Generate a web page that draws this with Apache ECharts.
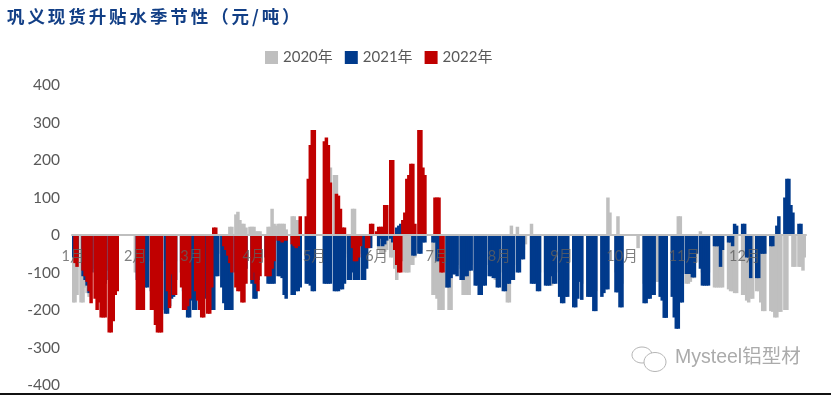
<!DOCTYPE html>
<html><head><meta charset="utf-8">
<style>html,body{margin:0;padding:0;background:#fff}#c{width:831px;height:395px}</style>
<script src="https://cdn.jsdelivr.net/npm/echarts@6/dist/echarts.min.js"></script>
</head><body><div id="c"></div>
<script>
const _ = null;
const titleText = '巩\u2006义\u2006现\u2006货\u2006升\u2006贴\u2006水\u2006季\u2006节\u2006性\u2006（\u2006元\u2006/\u2006吨\u2006）';
const monthNames = ['1月','2月','3月','4月','5月','6月','7月','8月','9月','10月','11月','12月'];
const monthStarts = [0,31,59,90,120,151,181,212,243,273,304,334];
const dayCount = 365;
const yearNames = ['2020年','2021年','2022年'];
const yearColors = ['#BFBFBF','#003A8C','#C00000'];
const yTicks = {min:-400,max:400,step:100};

const values2020 = [
-180,-180,-160,_,-180,-180,-140,-155,-165,_,
_,-90,-110,-100,-120,-100,_,-95,_,-110,
-100,-90,-80,_,_,_,_,_,_,_,
_,-100,-100,-90,-100,-80,-100,_,_,-70,
-80,-100,-90,-60,-70,_,_,-60,-80,-70,
-60,-70,_,_,-70,-80,-90,-100,-90,-60,
-60,-60,-80,-90,-100,-80,_,-70,-80,-60,
-60,-50,-50,_,-30,-30,-30,-50,22,22,
_,55,62,40,30,30,20,_,22,22,
22,10,10,10,_,_,_,22,22,70,
30,25,30,30,30,30,15,_,_,50,
50,40,40,-20,_,_,-60,-60,-70,-80,
-70,_,_,_,_,-60,-70,-70,180,_,
160,160,-60,-60,-50,-50,_,-60,-50,70,
70,-50,-50,_,-50,-50,-50,-30,-30,_,
_,_,-40,-50,-50,-45,-40,_,-60,-60,
-90,-120,-80,_,-70,-100,-100,-100,-80,-80,
-60,_,-40,-40,_,_,_,_,_,-160,
-160,-170,-200,-200,-200,-140,-140,-200,-200,-80,
-80,-80,_,-90,-160,-160,-160,-160,-80,_,
-100,-100,-120,-120,-100,-100,_,-80,-80,-100,
-120,-100,-100,_,-100,-100,-180,-180,25,-80,
_,22,-60,-50,-40,-25,_,_,30,-100,
-100,-100,-100,_,_,-100,-100,-100,-135,-120,
-100,_,-120,-130,-130,-120,-120,_,_,-130,
-130,-120,-100,-130,_,_,-120,-120,-120,-150,
-150,_,_,-120,-110,-100,100,60,_,_,
-100,50,-130,-130,_,_,_,_,_,_,
_,-35,_,_,-130,-130,-120,-120,-110,-110,
-125,-125,-120,-130,-150,-150,_,_,-120,-150,
-180,50,50,-130,_,-130,-130,-125,-115,-115,
-40,_,10,-100,-100,-100,-100,_,_,-140,
-140,-140,-140,-140,_,_,-145,-150,-150,-155,
-155,_,_,-160,-160,-175,-180,-170,-170,_,
-150,-150,-180,-203,-203,_,_,-203,-205,-220,
-220,-205,-205,_,-200,-200,_,_,-85,-85,
_,-85,-85,-95,-60];

const values2021 = [
-60,-50,-60,_,_,-110,-120,-135,-155,-100,
_,-100,-120,-110,-130,-130,-130,_,-120,-150,
-150,-120,-100,_,_,_,_,_,_,_,
_,_,-120,-130,-130,-130,-140,-140,_,-150,
-150,-180,-200,-200,-200,_,-210,-210,-190,-170,
-165,-120,_,_,-100,-150,-150,-220,-220,-175,
-200,-200,-170,-180,-160,-160,-170,-180,-180,-200,
-200,-110,-110,_,-140,-182,-200,-200,-200,-200,
_,-100,-110,-100,-120,-130,-90,_,_,-130,
-170,-170,-120,-60,_,_,-60,-130,-130,-130,
-130,_,-110,-110,-115,-160,-170,_,_,-160,
-160,-150,-150,-140,_,_,-130,-130,-135,-150,
-150,_,_,_,_,-130,-130,-130,-130,_,
-150,-150,-150,-145,-145,-130,_,-120,-120,-100,
-120,-120,-120,_,-120,-120,-90,-35,-35,_,
_,_,-30,-10,-30,-25,-15,_,-10,-20,
_,20,25,30,_,_,_,_,_,-55,
-55,_,-50,-50,-20,-20,_,_,_,-20,
-20,-70,-70,-20,_,_,-140,-140,-115,-105,
-105,-110,_,-120,-120,-110,-110,-95,-95,_,
-135,-135,-160,-160,-135,-135,_,-110,-110,-115,
-115,-140,-140,_,-150,-150,-130,-130,-120,-120,
_,-100,-100,-65,-65,_,_,_,-130,-130,
-130,-150,-150,_,_,-135,-135,-135,-110,-130,
-130,_,-165,-182,-182,-165,-165,_,_,-193,
-193,-170,-125,-173,_,_,-165,-165,-165,-203,
-203,_,_,-165,-155,-145,-145,_,_,_,
-153,-153,-193,-193,_,_,_,_,_,_,
_,_,_,_,-182,-182,-170,-170,-160,-160,
_,_,-165,-175,-221,-221,_,_,-165,-220,
-250,-250,-180,-180,_,-104,-104,-104,-113,-113,
-50,_,-90,-135,-135,-135,-135,_,_,-30,
-30,-30,-85,-40,_,_,-20,-20,-30,30,
25,_,_,30,30,-60,-60,-115,_,_,
-115,-115,-50,-50,-50,_,_,-30,-30,_,
25,50,_,_,100,150,150,80,60,_,
_,30,30,_,_];

const values2022 = [
_,-75,-85,_,_,-95,-110,-125,-150,-182,
_,-170,-200,-180,-220,-220,-220,_,-260,-260,
-230,-160,-150,_,_,_,_,_,_,_,
_,_,-200,-200,-200,-200,_,_,_,-200,
-200,-240,-260,-260,-260,_,_,-150,-195,-105,
-160,-160,_,_,-140,-200,-200,-190,-170,_,
_,-150,-175,-200,-220,-220,_,-210,-210,-140,
20,20,_,_,_,-30,-40,-55,-75,-100,
_,-140,-150,-150,-180,-180,-130,_,_,-120,
-100,-130,-150,-110,_,_,-110,-110,-110,-90,
-70,_,-15,-15,-20,-15,-15,_,_,-25,
-30,-35,-30,50,_,_,50,150,240,280,
280,_,_,_,_,250,260,240,140,_,
_,110,105,70,20,20,_,_,_,-35,
-70,-70,-60,-30,_,_,-35,-35,30,30,
_,10,22,22,22,80,80,_,200,200,
-40,-80,-100,-100,40,60,150,160,190,190,
30,_,280,280,180,160,_,_,_,_,
100,100,100,-100,-100];

const categories = [];
for (let d = 0; d < dayCount; d++) {
  const m = monthStarts.indexOf(d);
  categories.push(m >= 0 ? monthNames[m] : '');
}
const seriesValues = [values2020, values2021, values2022];
const latin = 'Lato, "Noto Sans CJK SC", sans-serif';

const chart = echarts.init(document.getElementById('c'), null, {renderer:'canvas'});
chart.setOption({
  animation:false,
  backgroundColor:'#fff',
  title:{text:titleText,left:7,top:8,padding:0,textStyle:{fontFamily:'"Noto Sans CJK SC",serif',fontSize:17.5,fontWeight:'bold',color:'#123F86'}},
  legend:{left:265,top:50,padding:0,icon:'rect',itemWidth:13,itemHeight:13,itemGap:12,
    data:yearNames,textStyle:{fontFamily:latin,fontSize:15,color:'#595959'}},
  grid:{left:72,right:25,top:85,bottom:10,outerBoundsMode:'none'},
  xAxis:{type:'category',data:categories,z:3,boundaryGap:true,
    axisLine:{onZero:true,lineStyle:{color:'#BFBFBF',width:2}},axisTick:{show:false},splitLine:{show:false},
    axisLabel:{interval:0,margin:-136,fontFamily:latin,fontSize:14.5,color:'rgba(95,95,95,0.8)',hideOverlap:false}},
  yAxis:{type:'value',min:yTicks.min,max:yTicks.max,interval:yTicks.step,
    axisLine:{show:false},axisTick:{show:false},splitLine:{show:false},
    axisLabel:{margin:12,fontFamily:latin,fontSize:15.5,color:'#595959'}},
  series:yearNames.map((name,k)=>({type:'bar',name,data:seriesValues[k],barWidth:3.5,barGap:'-100%',
    itemStyle:{color:yearColors[k]},z:2+k*0.01})),
  graphic:[
    {type:'line',shape:{x1:0,y1:394,x2:831,y2:394},style:{stroke:'#111',lineWidth:2},silent:true},
    {type:'ellipse',shape:{cx:642,cy:355,rx:10,ry:8},style:{fill:'#fff',stroke:'#b5b5b5',lineWidth:1},z:5},
    {type:'ellipse',shape:{cx:655,cy:362,rx:11,ry:9.5},style:{fill:'#fff',stroke:'#b5b5b5',lineWidth:1},z:6},
    {type:'text',x:675,y:348,z:7,style:{text:'Mysteel铝型材',fontFamily:'"Liberation Sans","Noto Sans CJK SC",sans-serif',fontSize:19.5,fill:'#ababab'}}
  ]
});
</script></body></html>
